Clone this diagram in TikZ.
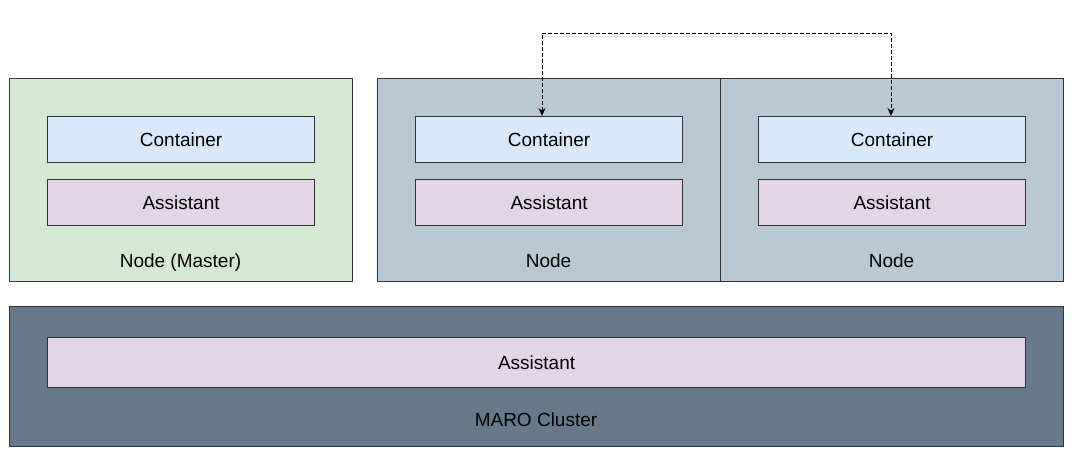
\documentclass[tikz,border=0pt]{standalone}
\usepackage{fontspec}
\setmainfont{Liberation Sans}
\usetikzlibrary{arrows.meta}
\definecolor{mastergreen}{HTML}{D5E8D4}
\definecolor{nodegray}{HTML}{BAC8D3}
\definecolor{contblue}{HTML}{DAE8FC}
\definecolor{assipurple}{HTML}{E1D5E7}
\definecolor{clustergray}{HTML}{66788A}
\definecolor{edgegray}{HTML}{333333}
\tikzset{
  box/.style={draw=edgegray, line width=1.2pt, inner sep=0pt, anchor=north west},
  contbox/.style={box, fill=contblue, font=\fontsize{19}{19}\selectfont},
  assibox/.style={box, fill=assipurple, font=\fontsize{19}{19}\selectfont},
  lbl/.style={font=\fontsize{19}{19}\selectfont, text=black, anchor=base, inner sep=0pt},
  link/.style={draw=black, line width=1pt, dash pattern=on 3.5pt off 2.5pt, {Stealth[length=8pt,width=7pt]}-{Stealth[length=8pt,width=7pt]}}
}
\begin{document}
\begin{tikzpicture}[x=1pt,y=-1pt]
\useasboundingbox (0,0) rectangle (1080,463);
% outer node boxes
\node[box, fill=mastergreen, minimum width=343pt, minimum height=203pt] (master) at (9,78) {};
\node[box, fill=nodegray, minimum width=343pt, minimum height=203pt] (nodeA) at (377,78) {};
\node[box, fill=nodegray, minimum width=343pt, minimum height=203pt] (nodeB) at (720,78) {};
% containers
\node[contbox, minimum width=267pt, minimum height=46pt] (contM) at (47,116) {Container};
\node[contbox, minimum width=267pt, minimum height=46pt] (contA) at (415,116) {Container};
\node[contbox, minimum width=267pt, minimum height=46pt] (contB) at (758,116) {Container};
% assistants
\node[assibox, minimum width=267pt, minimum height=46pt] (assiM) at (47,179) {Assistant};
\node[assibox, minimum width=267pt, minimum height=46pt] (assiA) at (415,179) {Assistant};
\node[assibox, minimum width=267pt, minimum height=46pt] (assiB) at (758,179) {Assistant};
% labels
\node[lbl] (lblM) at (180.5,267) {Node (Master)};
\node[lbl] (lblA) at (548.5,267) {Node};
\node[lbl] (lblB) at (891.5,267) {Node};
% cluster
\node[box, fill=clustergray, minimum width=1054pt, minimum height=140pt] (cluster) at (9,306) {};
\node[assibox, minimum width=978pt, minimum height=50pt] (assiC) at (47,337) {Assistant};
\node[lbl] (lblC) at (536,426) {MARO Cluster};
% dotted link
\coordinate (tA) at (542,33);
\coordinate (tB) at (891,33);
\draw[link] (contA.north -| tA) -- (tA) -- (tB) -- (contB.north -| tB);
\end{tikzpicture}
\end{document}
